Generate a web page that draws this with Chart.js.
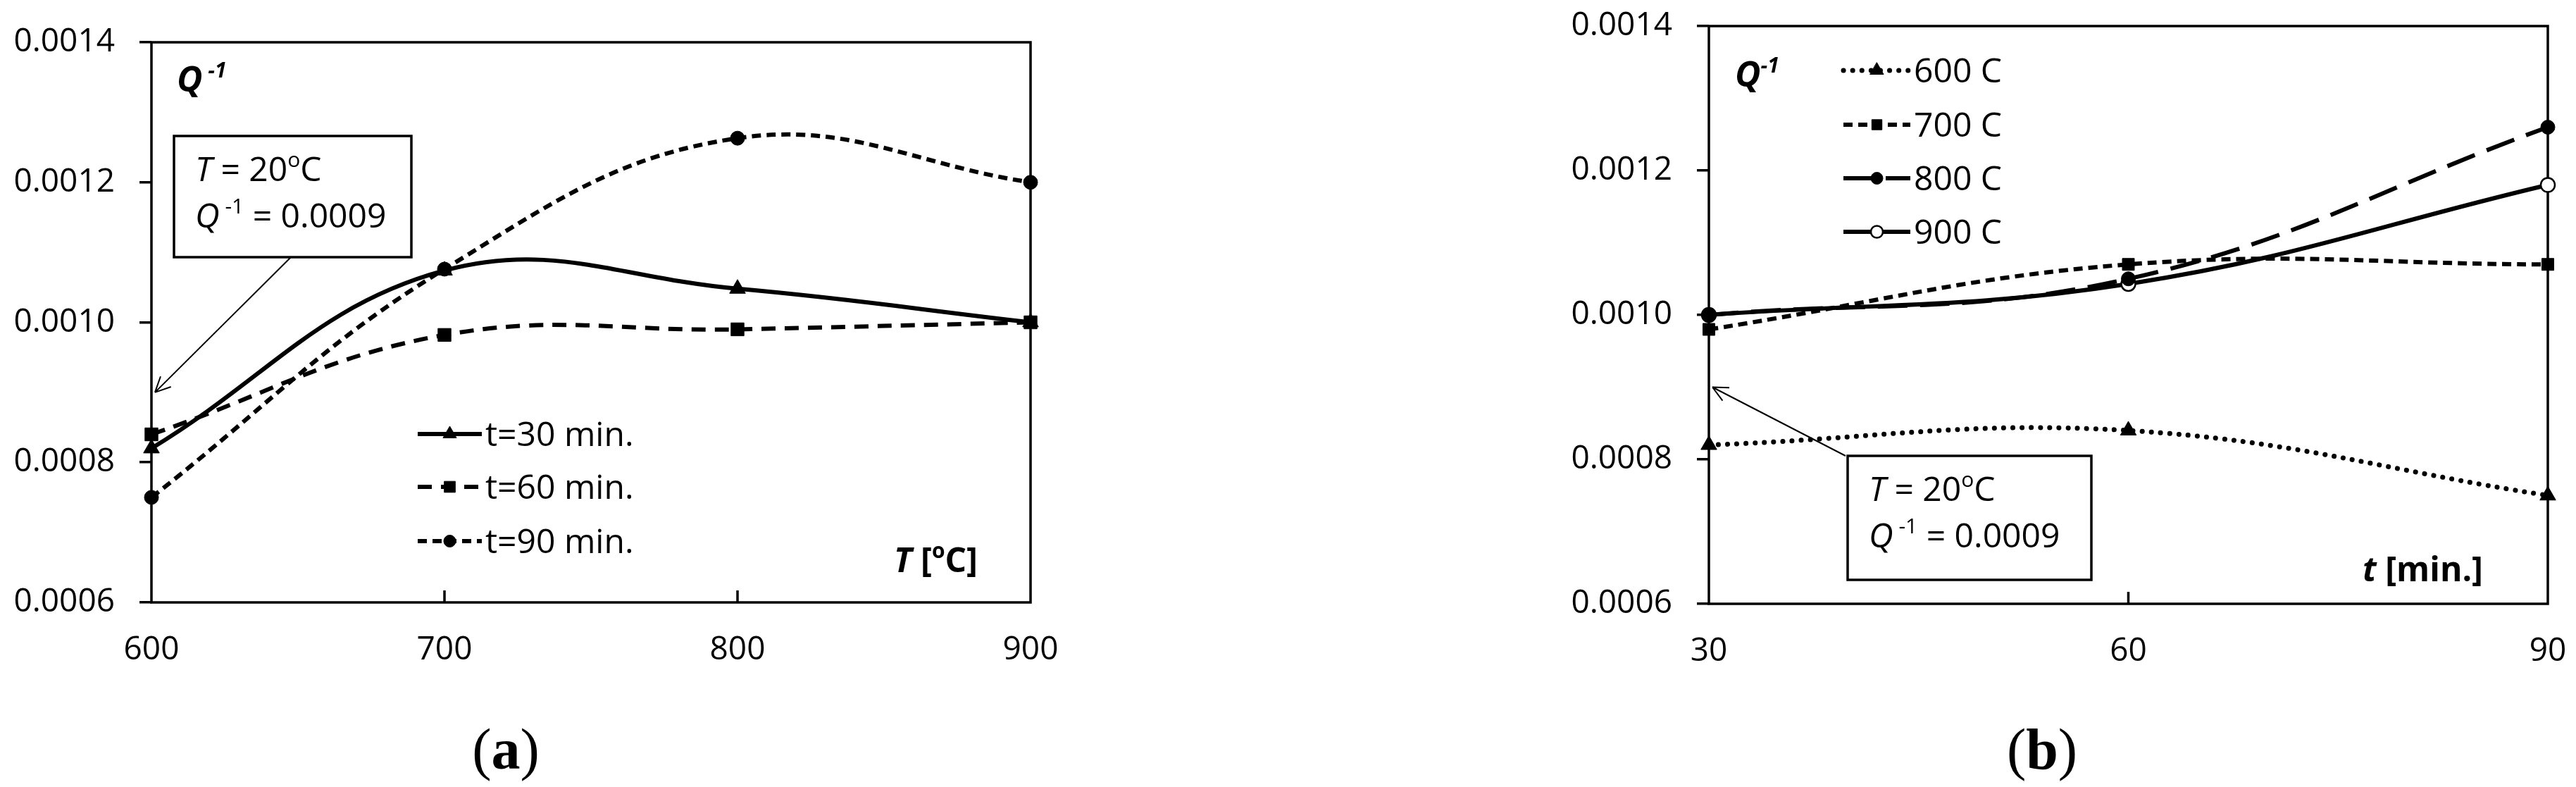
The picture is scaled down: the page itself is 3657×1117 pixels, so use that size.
<!DOCTYPE html>
<html>
<head>
<meta charset="utf-8">
<script src="https://cdn.jsdelivr.net/npm/chart.js@4.4.1/dist/chart.umd.min.js"></script>
<style>
  html, body { margin: 0; padding: 0; background: #fff; }
  body { width: 3657px; height: 1117px; position: relative; overflow: hidden; }
  .panel { position: absolute; top: 0; }
  #panelA { left: 0; }
  #panelB { left: 1800px; }
  .cap { position: absolute; font-family: "Liberation Serif", "DejaVu Serif", serif;
         font-size: 82px; line-height: 1; transform: translate(-50%, -50%); color: #000; }
</style>
</head>
<body>
<div class="panel" id="panelA"><canvas id="chartA" width="1700" height="1000"></canvas></div>
<div class="panel" id="panelB"><canvas id="chartB" width="1857" height="1000"></canvas></div>
<div class="cap" style="left:718px;top:1064px">(<b>a</b>)</div>
<div class="cap" style="left:2899px;top:1064px">(<b>b</b>)</div>

<script>
// ---- data ----
const tempsC   = [600, 700, 800, 900];
const q30min   = [0.00082, 0.001074, 0.001048, 0.0010];
const q60min   = [0.00084, 0.000982, 0.00099, 0.0010];
const q90min   = [0.00075, 0.001076, 0.001263, 0.0012];

const timesMin = [30, 60, 90];
const q600C    = [0.00082, 0.00084, 0.00075];
const q700C    = [0.00098, 0.00107, 0.00107];
const q800C    = [0.0010, 0.00105, 0.00126];
const q900C    = [0.0010, 0.001043, 0.00118];

const yTicks   = [0.0006, 0.0008, 0.0010, 0.0012, 0.0014];
const refQ     = 0.0009;   // value at 20 C, pointed to by the arrow

const FONT = "Open Sans";
Chart.defaults.font.family = FONT;
Chart.defaults.color = "#000";

const pts = (xs, ys) => xs.map((x, i) => ({ x, y: ys[i] }));

function lineSet(label, xs, ys, extra) {
  return Object.assign({
    label,
    data: pts(xs, ys),
    borderColor: "#000",
    borderWidth: 6,
    pointBackgroundColor: "#000",
    pointBorderColor: "#000",
    pointBorderWidth: 1,
    tension: 0.4,
    fill: false,
    clip: false
  }, extra);
}

// draws a row of text pieces (for superscripts / mixed styles)
function drawRuns(ctx, runs, x, y, align) {
  let w = 0;
  runs.forEach(r => { ctx.font = r.font; w += ctx.measureText(r.t).width; });
  let cx = align === "right" ? x - w : x;
  runs.forEach(r => {
    ctx.font = r.font;
    ctx.fillText(r.t, cx, y + (r.dy || 0));
    cx += ctx.measureText(r.t).width;
  });
}

const reg  = s => `${s}px "${FONT}"`;
const ital = s => `italic ${s}px "${FONT}"`;
const bold = s => `bold ${s}px "${FONT}"`;
const bi   = s => `italic bold ${s}px "${FONT}"`;

const decorPlugin = {
  id: "decor",
  beforeDatasetsDraw(chart, args, o) {
    const { ctx, chartArea: a, scales: { x } } = chart;
    ctx.save();
    ctx.strokeStyle = "#000";
    ctx.lineWidth = 3.5;
    ctx.strokeRect(a.left, a.top, a.right - a.left, a.bottom - a.top);
    (o.innerTicks || []).forEach(v => {
      const px = x.getPixelForValue(v);
      ctx.beginPath();
      ctx.moveTo(px, a.bottom);
      ctx.lineTo(px, a.bottom - 17);
      ctx.stroke();
    });
    ctx.restore();
  },
  afterDatasetsDraw(chart, args, o) {
    const { ctx, chartArea: a, scales: { x, y } } = chart;
    ctx.save();
    ctx.fillStyle = "#000";
    ctx.textBaseline = "alphabetic";

    // Q^-1 label in the corner
    drawRuns(ctx, [
      { t: "Q", font: bi(50) },
      { t: o.qGap ? " -1" : "-1", font: bi(30), dy: -20 }
    ], a.left + o.qPos[0], a.top + o.qPos[1]);

    // axis title inside the plot
    drawRuns(ctx, o.axisTitle, a.right + o.titlePos[0], a.top + o.titlePos[1], "right");

    // note box with arrow
    const n = o.note;
    const bx = a.left + n.box[0], by = a.top + n.box[1];
    const sx = bx + n.from[0], sy = by + n.from[1];
    const tx = x.getPixelForValue(x.min) + 5, ty = y.getPixelForValue(refQ);
    ctx.strokeStyle = "#000";
    ctx.lineWidth = 2;
    ctx.beginPath();
    ctx.moveTo(sx, sy);
    ctx.lineTo(tx, ty);
    const ang = Math.atan2(ty - sy, tx - sx);
    [-0.45, 0.45].forEach(d => {
      ctx.moveTo(tx, ty);
      ctx.lineTo(tx - 24 * Math.cos(ang + d), ty - 24 * Math.sin(ang + d));
    });
    ctx.stroke();
    ctx.fillStyle = "#fff";
    ctx.fillRect(bx, by, n.box[2], n.box[3]);
    ctx.lineWidth = 3.5;
    ctx.strokeRect(bx, by, n.box[2], n.box[3]);
    ctx.fillStyle = "#000";
    drawRuns(ctx, [
      { t: "T", font: ital(48) }, { t: " = 20", font: reg(48) },
      { t: "o", font: reg(30), dy: -20 }, { t: "C", font: reg(48) }
    ], bx + 30, by + 64);
    drawRuns(ctx, [
      { t: "Q", font: ital(48) }, { t: " -1", font: reg(30), dy: -20 },
      { t: " = 0.0009", font: reg(48) }
    ], bx + 30, by + 130);

    // legend drawn inside the plot area
    const L = o.legend;
    chart.data.datasets.forEach((ds, i) => {
      const cy = a.top + L.rows[i];
      const x0 = a.left + L.x0, x1 = a.left + L.x1;
      ctx.save();
      ctx.strokeStyle = ds.borderColor;
      ctx.lineWidth = ds.borderWidth;
      ctx.lineCap = ds.borderCapStyle || "butt";
      ctx.setLineDash(ds.borderDash || []);
      ctx.beginPath();
      ctx.moveTo(x0, cy);
      ctx.lineTo(x1, cy);
      ctx.stroke();
      ctx.setLineDash([]);
      ctx.fillStyle = ds.pointBackgroundColor;
      ctx.strokeStyle = ds.pointBorderColor;
      ctx.lineWidth = ds.pointBorderWidth;
      Chart.helpers.drawPoint(ctx, {
        pointStyle: ds.pointStyle, rotation: 0,
        radius: ds.pointRadius * 0.85, borderWidth: ds.pointBorderWidth
      }, (x0 + x1) / 2, cy);
      ctx.restore();
      ctx.font = reg(48);
      ctx.fillText(ds.label, x1 + 5, cy + 17);
    });
    ctx.restore();
  }
};

function axes(xs, xMin, xMax, yWidth) {
  return {
    x: {
      type: "linear", min: xMin, max: xMax,
      afterBuildTicks: s => { s.ticks = xs.map(v => ({ value: v })); },
      grid: { display: false, drawTicks: false },
      border: { display: false },
      ticks: { font: { size: 46 }, padding: 40 },
      // keep the plot box where layout.padding puts it
      afterFit: s => { s.height = 100; s.paddingLeft = 0; s.paddingRight = 0; }
    },
    y: {
      min: 0.0006, max: 0.0014,
      afterBuildTicks: s => { s.ticks = yTicks.map(v => ({ value: v })); },
      grid: { drawOnChartArea: false, tickLength: 17, lineWidth: 3.5, color: "#000" },
      border: { display: false },
      ticks: { font: { size: 46 }, padding: 35, callback: v => v.toFixed(4) },
      afterFit: s => { s.width = yWidth; s.paddingTop = 0; s.paddingBottom = 0; }
    }
  };
}

new Chart(document.getElementById("chartA"), {
  type: "line",
  data: {
    datasets: [
      lineSet("t=30 min.", tempsC, q30min, { pointStyle: "triangle", pointRadius: 13 }),
      lineSet("t=60 min.", tempsC, q60min, { pointStyle: "rect", pointRadius: 13, borderDash: [20, 13] }),
      lineSet("t=90 min.", tempsC, q90min, { pointStyle: "circle", pointRadius: 10, borderDash: [13, 8] })
    ]
  },
  options: {
    responsive: false,
    animation: false,
    layout: { padding: { left: 0, top: 60, right: 237, bottom: 45 } },
    scales: axes(tempsC, 600, 900, 215),
    plugins: {
      legend: { display: false },
      tooltip: { enabled: false },
      decor: {
        innerTicks: [700, 800],
        qPos: [36, 70], qGap: true,
        titlePos: [-75, 752],
        axisTitle: [
          { t: "T", font: bi(48) }, { t: " [", font: bold(48) },
          { t: "o", font: bold(30), dy: -20 }, { t: "C]", font: bold(48) }
        ],
        note: { box: [32, 133, 337, 172], from: [166, 172] },
        legend: { rows: [556, 631, 708], x0: 378, x1: 469 }
      }
    }
  },
  plugins: [decorPlugin]
});

new Chart(document.getElementById("chartB"), {
  type: "line",
  data: {
    datasets: [
      lineSet("600 C", timesMin, q600C, { pointStyle: "triangle", pointRadius: 13, borderWidth: 7,
                                         borderDash: [0.1, 13], borderCapStyle: "round" }),
      lineSet("700 C", timesMin, q700C, { pointStyle: "rect", pointRadius: 12, borderDash: [13, 8] }),
      lineSet("800 C", timesMin, q800C, { pointStyle: "circle", pointRadius: 10, borderDash: [42, 18] }),
      lineSet("900 C", timesMin, q900C, { pointStyle: "circle", pointRadius: 10,
                                         pointBackgroundColor: "#fff", pointBorderWidth: 2.5 })
    ]
  },
  options: {
    responsive: false,
    animation: false,
    layout: { padding: { left: 0, top: 37, right: 40, bottom: 43 } },
    scales: axes(timesMin, 30, 90, 626),
    plugins: {
      legend: { display: false },
      tooltip: { enabled: false },
      decor: {
        innerTicks: [60],
        qPos: [37, 86], qGap: false,
        titlePos: [-92, 788],
        axisTitle: [
          { t: "t", font: bi(48) }, { t: " [min.]", font: bold(48) }
        ],
        note: { box: [197, 610, 346, 176], from: [-3, 0] },
        legend: { rows: [63, 140, 216, 292], x0: 191, x1: 286 }
      }
    }
  },
  plugins: [decorPlugin]
});
</script>
</body>
</html>
